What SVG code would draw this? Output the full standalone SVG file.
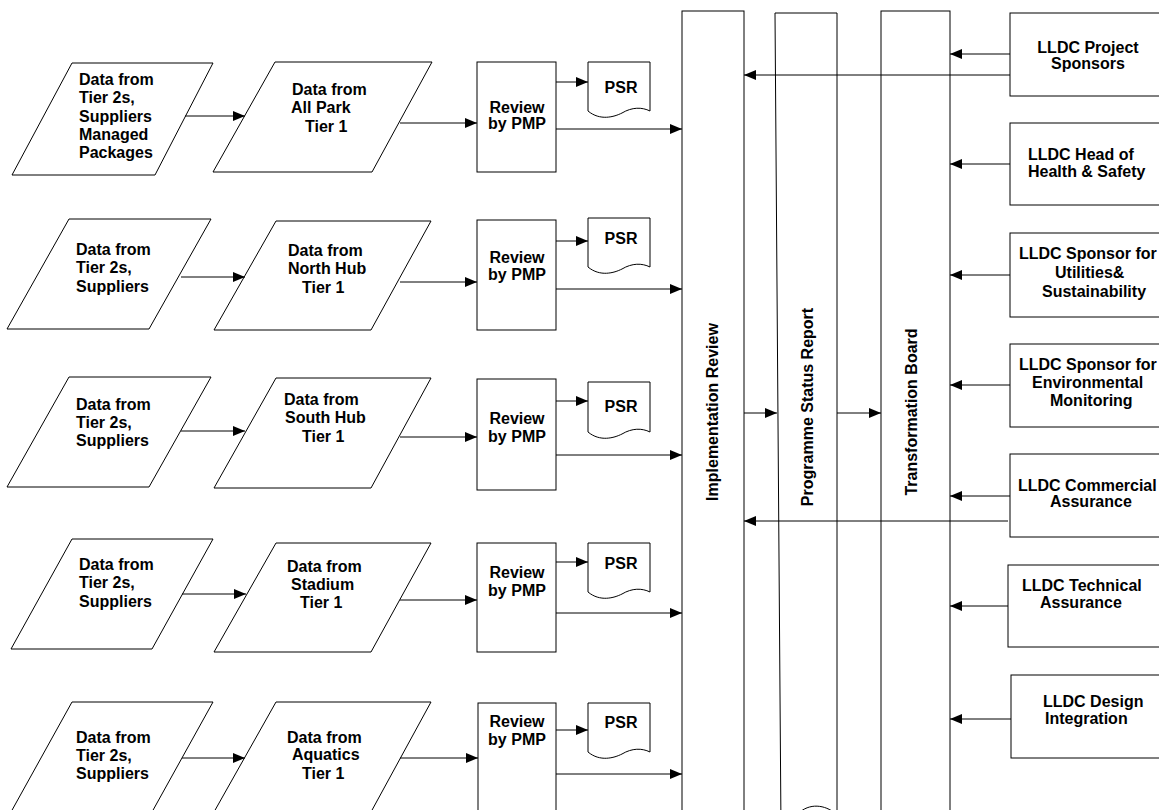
<svg xmlns="http://www.w3.org/2000/svg" width="1159" height="810" viewBox="0 0 1159 810">
<style>
.s{fill:#fff;stroke:#000;stroke-width:1}
.t{font-family:"Liberation Sans",Arial,Helvetica,sans-serif;font-weight:bold;font-size:16px;fill:#000}
.m{text-anchor:middle}
.c{fill:none;stroke:#000;stroke-width:1;marker-end:url(#ah)}
</style>
<defs>
<marker id="ah" markerUnits="userSpaceOnUse" markerWidth="12" markerHeight="10" refX="12" refY="5" orient="auto">
<path d="M0,0 L12,5 L0,10 Z" fill="#000"/>
</marker>
</defs>
<rect width="1159" height="810" fill="#fff"/>

<!-- Row 1 -->
<g id="row1-source">
<polygon class="s" points="72,63 213,63 155,175 12,175"/>
<text class="t" x="79" y="85">Data from</text>
<text class="t" x="79" y="103">Tier 2s,</text>
<text class="t" x="79" y="122">Suppliers</text>
<text class="t" x="79" y="140">Managed</text>
<text class="t" x="79" y="158">Packages</text>
</g>
<g id="row1-tier1">
<polygon class="s" points="275,62 432,62 372,172 213,172"/>
<text class="t" x="292" y="95">Data from</text>
<text class="t" x="291" y="113">All Park</text>
<text class="t" x="305" y="132">Tier 1</text>
</g>
<g id="row1-review">
<rect class="s" x="477" y="62" width="79" height="110"/>
<text class="t m" x="517" y="113">Review</text>
<text class="t m" x="517" y="129">by PMP</text>
</g>
<g id="row1-psr">
<path class="s" d="M588,62 H650 V111 C642,107 632,107 622,113 C614,117 600,121 588,111 Z"/>
<text class="t m" x="621" y="93">PSR</text>
</g>

<!-- Row 2 -->
<g id="row2-source">
<polygon class="s" points="69,219 211,219 149,329 7,329"/>
<text class="t" x="76" y="255">Data from</text>
<text class="t" x="76" y="273">Tier 2s,</text>
<text class="t" x="76" y="292">Suppliers</text>
</g>
<g id="row2-tier1">
<polygon class="s" points="276,221 431,221 371,330 214,330"/>
<text class="t" x="288" y="256">Data from</text>
<text class="t" x="288" y="274">North Hub</text>
<text class="t" x="302" y="293">Tier 1</text>
</g>
<g id="row2-review">
<rect class="s" x="477" y="220" width="79" height="110"/>
<text class="t m" x="517" y="263">Review</text>
<text class="t m" x="517" y="280">by PMP</text>
</g>
<g id="row2-psr">
<path class="s" d="M588,218 H650 V267 C642,263 632,263 622,269 C614,273 600,277 588,267 Z"/>
<text class="t m" x="621" y="244">PSR</text>
</g>

<!-- Row 3 -->
<g id="row3-source">
<polygon class="s" points="69,377 211,377 149,487 7,487"/>
<text class="t" x="76" y="410">Data from</text>
<text class="t" x="76" y="428">Tier 2s,</text>
<text class="t" x="76" y="446">Suppliers</text>
</g>
<g id="row3-tier1">
<polygon class="s" points="276,378 431,378 371,488 214,488"/>
<text class="t" x="284" y="405">Data from</text>
<text class="t" x="285" y="423">South Hub</text>
<text class="t" x="302" y="442">Tier 1</text>
</g>
<g id="row3-review">
<rect class="s" x="477" y="379" width="79" height="111"/>
<text class="t m" x="517" y="424">Review</text>
<text class="t m" x="517" y="442">by PMP</text>
</g>
<g id="row3-psr">
<path class="s" d="M588,382 H650 V432 C642,428 632,428 622,434 C614,438 600,442 588,432 Z"/>
<text class="t m" x="621" y="412">PSR</text>
</g>

<!-- Row 4 -->
<g id="row4-source">
<polygon class="s" points="72,539 213,539 152,649 11,649"/>
<text class="t" x="79" y="570">Data from</text>
<text class="t" x="79" y="588">Tier 2s,</text>
<text class="t" x="79" y="607">Suppliers</text>
</g>
<g id="row4-tier1">
<polygon class="s" points="276,543 431,543 371,652 214,652"/>
<text class="t" x="287" y="572">Data from</text>
<text class="t" x="291" y="590">Stadium</text>
<text class="t" x="300" y="608">Tier 1</text>
</g>
<g id="row4-review">
<rect class="s" x="477" y="543" width="79" height="109"/>
<text class="t m" x="517" y="578">Review</text>
<text class="t m" x="517" y="596">by PMP</text>
</g>
<g id="row4-psr">
<path class="s" d="M588,543 H650 V592 C642,588 632,588 622,594 C614,598 600,602 588,592 Z"/>
<text class="t m" x="621" y="569">PSR</text>
</g>

<!-- Row 5 -->
<g id="row5-source">
<polygon class="s" points="72,702 213,702 152,812 11,812"/>
<text class="t" x="76" y="743">Data from</text>
<text class="t" x="76" y="761">Tier 2s,</text>
<text class="t" x="76" y="779">Suppliers</text>
</g>
<g id="row5-tier1">
<polygon class="s" points="276,702 431,702 371,812 214,812"/>
<text class="t" x="287" y="743">Data from</text>
<text class="t" x="292" y="760">Aquatics</text>
<text class="t" x="302" y="779">Tier 1</text>
</g>
<g id="row5-review">
<rect class="s" x="478" y="703" width="78" height="115"/>
<text class="t m" x="517" y="727">Review</text>
<text class="t m" x="517" y="745">by PMP</text>
</g>
<g id="row5-psr">
<path class="s" d="M588,703 H650 V752 C642,748 632,748 622,754 C614,758 600,762 588,752 Z"/>
<text class="t m" x="621" y="728">PSR</text>
</g>

<!-- Vertical bars -->
<g id="implementation-review">
<rect class="s" x="682" y="11" width="62" height="820"/>
<text class="t m" transform="translate(718,412) rotate(-90)">Implementation Review</text>
</g>
<g id="programme-status-report">
<path class="s" d="M775,13 L837,13 L837,815 C828,806 812,802 800,812 L781,830 Z"/>
<text class="t m" transform="translate(813,407) rotate(-90)">Programme Status Report</text>
</g>
<g id="transformation-board">
<rect class="s" x="881" y="11" width="69" height="820"/>
<text class="t m" transform="translate(917,412) rotate(-90)">Transformation Board</text>
</g>

<!-- Right boxes -->
<g id="lldc-project-sponsors">
<rect class="s" x="1010" y="13" width="170" height="83"/>
<text class="t m" x="1088" y="53">LLDC Project</text>
<text class="t m" x="1088" y="69">Sponsors</text>
</g>
<g id="lldc-head-hs">
<rect class="s" x="1010" y="123" width="170" height="82"/>
<text class="t" x="1028" y="160">LLDC Head of</text>
<text class="t" x="1028" y="177">Health &amp; Safety</text>
</g>
<g id="lldc-sponsor-utilities">
<rect class="s" x="1010" y="233" width="170" height="84"/>
<text class="t" x="1019" y="259">LLDC Sponsor for</text>
<text class="t" x="1055" y="278">Utilities&amp;</text>
<text class="t" x="1042" y="297">Sustainability</text>
</g>
<g id="lldc-sponsor-environmental">
<rect class="s" x="1010" y="344" width="170" height="83"/>
<text class="t" x="1019" y="370">LLDC Sponsor for</text>
<text class="t" x="1032" y="388">Environmental</text>
<text class="t" x="1050" y="406">Monitoring</text>
</g>
<g id="lldc-commercial-assurance">
<rect class="s" x="1010" y="454" width="170" height="83"/>
<text class="t" x="1018" y="491">LLDC Commercial</text>
<text class="t" x="1050" y="507">Assurance</text>
</g>
<g id="lldc-technical-assurance">
<rect class="s" x="1008" y="565" width="170" height="82"/>
<text class="t" x="1022" y="591">LLDC Technical</text>
<text class="t" x="1040" y="608">Assurance</text>
</g>
<g id="lldc-design-integration">
<rect class="s" x="1011" y="675" width="170" height="83"/>
<text class="t" x="1043" y="707">LLDC Design</text>
<text class="t" x="1045" y="724">Integration</text>
</g>

<!-- Connectors -->
<g id="connectors">
<path class="c" d="M185,116 H245"/>
<path class="c" d="M400,123 H477"/>
<path class="c" d="M556,82 H588"/>
<path class="c" d="M556,129 H682"/>

<path class="c" d="M181,277 H245"/>
<path class="c" d="M400,282 H477"/>
<path class="c" d="M556,241 H588"/>
<path class="c" d="M556,289 H682"/>

<path class="c" d="M181,431 H245"/>
<path class="c" d="M400,437 H477"/>
<path class="c" d="M556,401 H588"/>
<path class="c" d="M556,455 H682"/>

<path class="c" d="M182,594 H246"/>
<path class="c" d="M400,600 H477"/>
<path class="c" d="M556,562 H588"/>
<path class="c" d="M556,613 H682"/>

<path class="c" d="M182,758 H245"/>
<path class="c" d="M400,758 H478"/>
<path class="c" d="M556,730 H588"/>
<path class="c" d="M556,774 H682"/>

<path class="c" d="M744,413 H777"/>
<path class="c" d="M837,413 H881"/>

<path class="c" d="M1010,54 H950"/>
<path class="c" d="M1010,75 H744"/>
<path class="c" d="M1010,164 H950"/>
<path class="c" d="M1010,275 H950"/>
<path class="c" d="M1010,385 H950"/>
<path class="c" d="M1010,496 H950"/>
<path class="c" d="M1008,521 H744"/>
<path class="c" d="M1008,606 H950"/>
<path class="c" d="M1011,719 H950"/>
</g>
</svg>
